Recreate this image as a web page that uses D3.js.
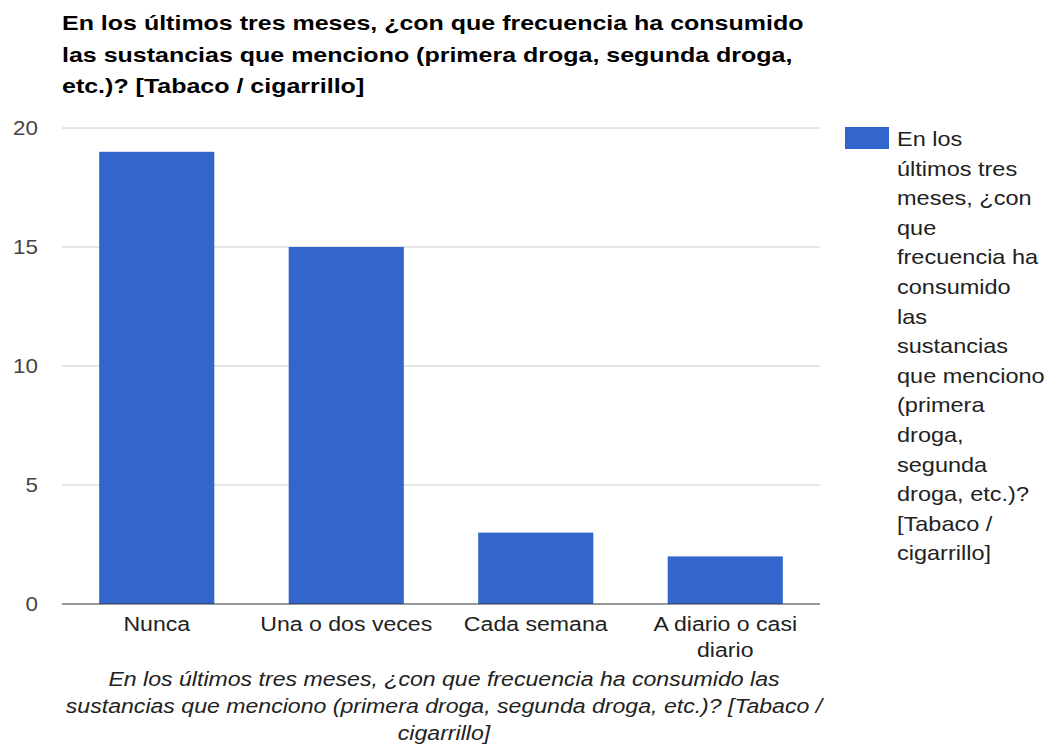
<!DOCTYPE html>
<html>
<head>
<meta charset="utf-8">
<script src="https://cdn.jsdelivr.net/npm/d3@7"></script>
<style>
  html, body { margin: 0; padding: 0; background: #fff; }
  svg { display: block; font-family: "Liberation Sans", Arial, sans-serif; }
</style>
</head>
<body>
<svg id="chart" width="1051" height="746"></svg>
<script>
// Response counts for tobacco use frequency
const categories = ["Nunca", "Una o dos veces", "Cada semana", "A diario o casi diario"];
const values = [19, 15, 3, 2];
const yTicks = [0, 5, 10, 15, 20];

const titleLines = [
  "En los últimos tres meses, ¿con que frecuencia ha consumido",
  "las sustancias que menciono (primera droga, segunda droga,",
  "etc.)? [Tabaco / cigarrillo]"
];
const legendLines = [
  "En los", "últimos tres", "meses, ¿con", "que", "frecuencia ha", "consumido",
  "las", "sustancias", "que menciono", "(primera", "droga,", "segunda",
  "droga, etc.)?", "[Tabaco /", "cigarrillo]"
];
const axisTitleLines = [
  "En los últimos tres meses, ¿con que frecuencia ha consumido las",
  "sustancias que menciono (primera droga, segunda droga, etc.)? [Tabaco /",
  "cigarrillo]"
];
const xLabelLines = [["Nunca"], ["Una o dos veces"], ["Cada semana"], ["A diario o casi", "diario"]];

const svg = d3.select("#chart");
const plot = { left: 62, right: 820, top: 128, bottom: 604 };
const barColor = "#3366cc";

const x = d3.scaleBand().domain(categories).range([plot.left, plot.right]).paddingInner(0.3925).paddingOuter(0.19625);
const y = d3.scaleLinear().domain([0, 20]).range([plot.bottom, plot.top]);

// place a text line at (px, py) with a horizontal widening factor
const place = (px, py, sx) => `translate(${px},${py}) scale(${sx},1)`;

// Title
svg.append("g").selectAll("text").data(titleLines).join("text")
  .attr("transform", (d, i) => place(62, 30 + i * 31.5, 1.19))
  .attr("font-size", 21).attr("font-weight", "bold").attr("fill", "#000")
  .text(d => d);

// Gridlines
svg.append("g").selectAll("line").data(yTicks.filter(t => t > 0)).join("line")
  .attr("x1", plot.left).attr("x2", plot.right)
  .attr("y1", d => y(d)).attr("y2", d => y(d))
  .attr("stroke", "#cccccc").attr("stroke-width", 1);

// Y tick labels
svg.append("g").selectAll("text").data(yTicks).join("text")
  .attr("transform", d => place(38, y(d) + 7, 1.12))
  .attr("text-anchor", "end").attr("font-size", 20).attr("fill", "#444")
  .text(d => d);

// Bars
svg.append("g").selectAll("rect").data(values).join("rect")
  .attr("x", (d, i) => x(categories[i]))
  .attr("y", d => y(d))
  .attr("width", x.bandwidth())
  .attr("height", d => y(0) - y(d))
  .attr("fill", barColor);

// Baseline
svg.append("line")
  .attr("x1", plot.left).attr("x2", plot.right)
  .attr("y1", y(0)).attr("y2", y(0))
  .attr("stroke", "#333").attr("stroke-width", 1.2);

// X category labels
const xl = svg.append("g").selectAll("text").data(categories).join("text")
  .attr("transform", d => place(x(d) + x.bandwidth() / 2, 631, 1.1))
  .attr("text-anchor", "middle").attr("font-size", 21).attr("fill", "#222");
xl.each(function(d, i) {
  d3.select(this).selectAll("tspan").data(xLabelLines[i]).join("tspan")
    .attr("x", 0)
    .attr("dy", (t, j) => j === 0 ? 0 : 26)
    .text(t => t);
});

// X axis title
svg.append("g").selectAll("text").data(axisTitleLines).join("text")
  .attr("transform", (d, i) => place(444, 686 + i * 27, 1.1))
  .attr("text-anchor", "middle").attr("font-size", 21).attr("font-style", "italic").attr("fill", "#222")
  .text(d => d);

// Legend
svg.append("rect").attr("x", 845).attr("y", 127).attr("width", 44).attr("height", 22).attr("fill", barColor);
svg.append("g").selectAll("text").data(legendLines).join("text")
  .attr("transform", (d, i) => place(897, 146 + i * 29.6, 1.12))
  .attr("font-size", 21).attr("fill", "#222")
  .text(d => d);
</script>
</body>
</html>
